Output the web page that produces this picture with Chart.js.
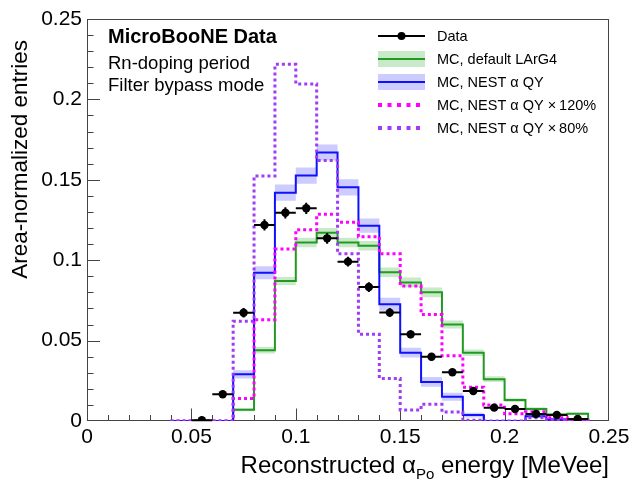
<!DOCTYPE html>
<html>
<head>
<meta charset="utf-8">
<script src="https://cdn.jsdelivr.net/npm/chart.js@4.4.1/dist/chart.umd.min.js"></script>
<style>
  html, body { margin: 0; padding: 0; background: #fff; }
  #wrap { width: 642px; height: 485px; }
</style>
</head>
<body>
<div id="wrap"><canvas id="chart" width="642" height="485"></canvas></div>
<script>
// bins: 0.04 .. 0.24, width 0.01
const binEdges = [0.04, 0.05, 0.06, 0.07, 0.08, 0.09, 0.10, 0.11, 0.12, 0.13, 0.14,
                  0.15, 0.16, 0.17, 0.18, 0.19, 0.20, 0.21, 0.22, 0.23, 0.24];
const halfBin = 0.005;

const mcDefault    = [0, 0, 0, 0.007, 0.044, 0.087, 0.111, 0.117, 0.111, 0.109, 0.0925, 0.0862, 0.080, 0.060, 0.0425, 0.026, 0.013, 0.0075, 0.004, 0.0045];
const mcDefaultErr = [0, 0, 0, 0.001, 0.002, 0.0025, 0.003, 0.003, 0.003, 0.003, 0.003, 0.003, 0.003, 0.0025, 0.002, 0.0018, 0.0012, 0.001, 0.0008, 0.0008];
const mcNest       = [0, 0, 0, 0.029, 0.0922, 0.142, 0.1526, 0.167, 0.1453, 0.1215, 0.0726, 0.0425, 0.0243, 0.0151, 0.0037, 0, 0, 0.003, 0.001, 0.0005];
const mcNestErr    = [0, 0, 0, 0.0025, 0.004, 0.005, 0.005, 0.005, 0.005, 0.0045, 0.004, 0.003, 0.003, 0.0025, 0.0015, 0, 0, 0.001, 0.0005, 0.0003];
const mcNest120    = [0, 0, 0, 0.014, 0.063, 0.107, 0.119, 0.1285, 0.1236, 0.1146, 0.104, 0.084, 0.0663, 0.0406, 0.021, 0.010, 0.0045, 0.0058, 0.002, 0.001];
const mcNest80     = [0, 0, 0, 0.062, 0.1524, 0.2218, 0.2096, 0.162, 0.104, 0.054, 0.0265, 0.0068, 0.0104, 0.0056, 0.0005, 0, 0, 0.002, 0.001, 0.0005];

const dataX   = [0.055, 0.065, 0.075, 0.085, 0.095, 0.105, 0.115, 0.125, 0.135, 0.145,
                 0.155, 0.165, 0.175, 0.185, 0.195, 0.205, 0.215, 0.225, 0.235];
const dataY   = [0.0005, 0.0166, 0.0673, 0.1219, 0.1295, 0.1323, 0.1136, 0.0991, 0.0833, 0.0674,
                 0.0539, 0.040, 0.0303, 0.0187, 0.0083, 0.0075, 0.0044, 0.0037, 0.0012];
const dataErr = [0.0006, 0.002, 0.003, 0.0035, 0.0035, 0.0035, 0.0033, 0.003, 0.003, 0.0028,
                 0.0025, 0.0022, 0.002, 0.0017, 0.0012, 0.0012, 0.001, 0.0009, 0.0006];

const xTicks = [0, 0.05, 0.1, 0.15, 0.2, 0.25];
const xTickLabels = ['0', '0.05', '0.1', '0.15', '0.2', '0.25'];
const yTicks = [0, 0.05, 0.1, 0.15, 0.2, 0.25];
const yTickLabels = ['0', '0.05', '0.1', '0.15', '0.2', '0.25'];

const GREEN = '#229a22', GREEN_BAND = 'rgba(40,170,40,0.25)';
const BLUE = '#1010ff', BLUE_BAND = 'rgba(40,40,255,0.24)';
const MAGENTA = '#ff00ff', PURPLE = '#a03cf5';
const FONT = '"Liberation Sans", Arial, Helvetica, sans-serif';

// histogram -> stepped points (edge, value), closing down to zero at the last edge
function steps(vals) {
  const pts = vals.map((v, i) => ({ x: binEdges[i], y: v }));
  pts.push({ x: binEdges[binEdges.length - 1], y: vals[vals.length - 1] });
  pts.push({ x: binEdges[binEdges.length - 1], y: 0 });
  return pts;
}
function bandSteps(vals, errs, sign) {
  const pts = vals.map((v, i) => ({ x: binEdges[i], y: v + sign * errs[i] }));
  pts.push({ x: binEdges[binEdges.length - 1], y: vals[vals.length - 1] + sign * errs[errs.length - 1] });
  return pts;
}

function histLine(vals, color, dotted) {
  return {
    data: steps(vals), stepped: 'before', borderColor: color, borderWidth: dotted ? 3 : 2,
    borderDash: dotted ? [3, 3] : [], borderCapStyle: 'butt', pointRadius: 0, fill: false
  };
}
function bandLine(vals, errs, sign, color) {
  return {
    data: bandSteps(vals, errs, sign), stepped: 'before', borderWidth: 0, borderColor: 'rgba(0,0,0,0)',
    pointRadius: 0, backgroundColor: color, fill: sign > 0 ? '-1' : false
  };
}

const frameAndText = {
  id: 'frameAndText',
  beforeDatasetsDraw(chart) {
    const { ctx, chartArea: a, scales: { x, y } } = chart;
    ctx.save();
    ctx.strokeStyle = '#444';
    ctx.lineWidth = 1;
    ctx.strokeRect(Math.round(a.left) + 0.5, Math.round(a.top) + 0.5,
                   Math.round(a.right - a.left) - 1, Math.round(a.bottom - a.top) - 1);
    ctx.beginPath();
    for (let k = 1; k < 25; k++) {
      const px = Math.round(x.getPixelForValue(k / 100)) + 0.5;
      const len = k % 5 === 0 ? 12.5 : 6;
      ctx.moveTo(px, a.bottom); ctx.lineTo(px, a.bottom - len);
      const py = Math.round(y.getPixelForValue(k / 100)) + 0.5;
      const lenY = k % 5 === 0 ? 13 : 6.5;
      ctx.moveTo(a.left, py); ctx.lineTo(a.left + lenY, py);
    }
    ctx.stroke();
    ctx.restore();
  },
  beforeDatasetDraw(chart, args) {
    if (args.index !== 0) return;
    const { ctx, scales: { x, y } } = chart;
    ctx.save();
    ctx.strokeStyle = '#000';
    ctx.lineWidth = 2;
    ctx.beginPath();
    dataX.forEach((cx, i) => {
      const py = y.getPixelForValue(dataY[i]);
      ctx.moveTo(x.getPixelForValue(cx - halfBin), py);
      ctx.lineTo(x.getPixelForValue(cx + halfBin), py);
      const px = x.getPixelForValue(cx);
      ctx.moveTo(px, y.getPixelForValue(Math.max(0, dataY[i] - dataErr[i])));
      ctx.lineTo(px, y.getPixelForValue(dataY[i] + dataErr[i]));
    });
    ctx.stroke();
    ctx.restore();
  },
  afterDraw(chart) {
    const { ctx, chartArea: a } = chart;
    ctx.save();
    ctx.fillStyle = '#000';
    ctx.textBaseline = 'alphabetic';
    ctx.textAlign = 'left';

    // top-left labels
    ctx.font = 'bold 20px ' + FONT;
    ctx.fillText('MicroBooNE Data', 108, 43);
    ctx.font = '18.5px ' + FONT;
    ctx.fillText('Rn-doping period', 108, 68.5);
    ctx.fillText('Filter bypass mode', 108, 90.5);

    // legend
    const lx0 = 378, lx1 = 425, tx = 437;
    ctx.font = '14.5px ' + FONT;
    ctx.textBaseline = 'middle';
    const rows = [36, 59, 82, 105, 128];
    // data
    ctx.strokeStyle = '#000'; ctx.lineWidth = 2;
    ctx.beginPath(); ctx.moveTo(lx0, rows[0]); ctx.lineTo(lx1, rows[0]); ctx.stroke();
    ctx.beginPath(); ctx.arc((lx0 + lx1) / 2, rows[0], 4, 0, Math.PI * 2); ctx.fillStyle = '#000'; ctx.fill();
    // bands
    [[rows[1], GREEN, GREEN_BAND], [rows[2], BLUE, BLUE_BAND]].forEach(([ry, c, b]) => {
      ctx.fillStyle = b; ctx.fillRect(lx0, ry - 8, lx1 - lx0, 16);
      ctx.strokeStyle = c; ctx.lineWidth = 2;
      ctx.beginPath(); ctx.moveTo(lx0, ry); ctx.lineTo(lx1, ry); ctx.stroke();
    });
    // dotted
    [[rows[3], MAGENTA], [rows[4], PURPLE]].forEach(([ry, c]) => {
      ctx.strokeStyle = c; ctx.lineWidth = 4; ctx.setLineDash([4, 5.5]);
      ctx.beginPath(); ctx.moveTo(lx0, ry); ctx.lineTo(lx0 + 43, ry); ctx.stroke();
      ctx.setLineDash([]);
    });
    ctx.fillStyle = '#000';
    const labels = ['Data', 'MC, default LArG4', 'MC, NEST \u03B1 QY',
                    'MC, NEST \u03B1 QY \u00D7\u2009120%', 'MC, NEST \u03B1 QY \u00D7\u200980%'];
    labels.forEach((t, i) => ctx.fillText(t, tx, rows[i] + 1));

    // x axis title with subscript, right aligned to the frame
    ctx.textBaseline = 'alphabetic';
    const big = '24px ' + FONT, small = '15px ' + FONT;
    const p1 = 'Reconstructed \u03B1', p2 = 'Po', p3 = ' energy [MeVee]';
    ctx.font = big; const w1 = ctx.measureText(p1).width, w3 = ctx.measureText(p3).width;
    ctx.font = small; const w2 = ctx.measureText(p2).width;
    let sx = a.right - (w1 + w2 + w3);
    const base = 473;
    ctx.font = big; ctx.fillText(p1, sx, base); sx += w1;
    ctx.font = small; ctx.fillText(p2, sx, base + 6); sx += w2;
    ctx.font = big; ctx.fillText(p3, sx, base);

    // y axis title, rotated, aligned near the top of the frame
    ctx.translate(27, a.top + 21);
    ctx.rotate(-Math.PI / 2);
    ctx.font = '22.5px ' + FONT;
    ctx.textAlign = 'right';
    ctx.fillText('Area-normalized entries', 0, 0);
    ctx.restore();
  }
};

new Chart(document.getElementById('chart'), {
  type: 'line',
  data: {
    datasets: [
      { data: dataX.map((v, i) => ({ x: v, y: dataY[i] })), showLine: false,
        pointRadius: 4.2, pointBackgroundColor: '#000', pointBorderColor: '#000', pointBorderWidth: 0 },
      histLine(mcNest80, PURPLE, true),
      histLine(mcNest120, MAGENTA, true),
      histLine(mcNest, BLUE, false),
      histLine(mcDefault, GREEN, false),
      bandLine(mcNest, mcNestErr, -1, BLUE_BAND),
      bandLine(mcNest, mcNestErr, 1, BLUE_BAND),
      bandLine(mcDefault, mcDefaultErr, -1, GREEN_BAND),
      bandLine(mcDefault, mcDefaultErr, 1, GREEN_BAND)
    ]
  },
  options: {
    responsive: false,
    animation: false,
    layout: { padding: { left: 0, top: 19, right: 33, bottom: 0 } },
    plugins: { legend: { display: false }, tooltip: { enabled: false } },
    scales: {
      x: {
        type: 'linear', min: 0, max: 0.25,
        grid: { display: false, drawTicks: false }, border: { display: false },
        afterBuildTicks: s => { s.ticks = xTicks.map(v => ({ value: v })); },
        afterFit: s => { s.height = 64; },
        ticks: { color: '#000', padding: 4, maxRotation: 0, font: { family: FONT, size: 21 },
                 callback: (v, i) => xTickLabels[i] }
      },
      y: {
        type: 'linear', min: 0, max: 0.25,
        grid: { display: false, drawTicks: false }, border: { display: false },
        afterBuildTicks: s => { s.ticks = yTicks.map(v => ({ value: v })); },
        afterFit: s => { s.width = 87; },
        ticks: { color: '#000', padding: 5, font: { family: FONT, size: 21 },
                 callback: (v, i) => yTickLabels[i] }
      }
    }
  },
  plugins: [frameAndText]
});
</script>
</body>
</html>
